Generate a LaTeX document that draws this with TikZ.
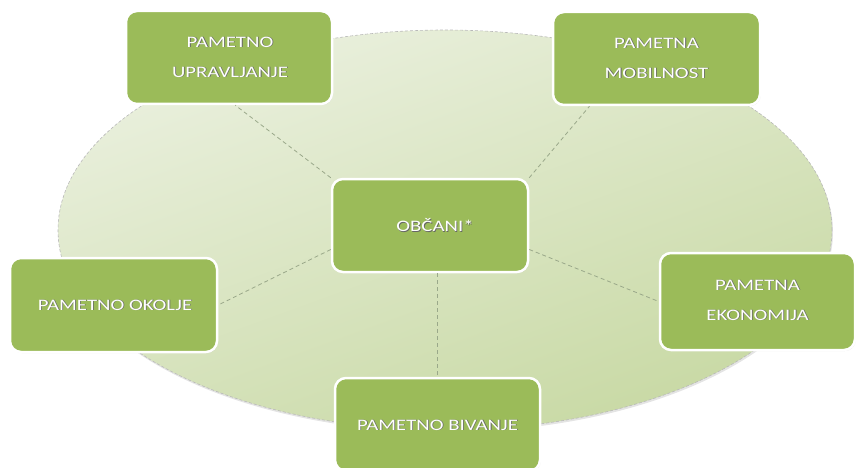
\documentclass[tikz,border=0pt]{standalone}
\usepackage{fontspec}
\setmainfont{Carlito}
\newfontfamily\boxfont[FakeStretch=1.3]{Carlito}
\usetikzlibrary{calc,shadows}
\definecolor{boxgreen}{HTML}{9BBB59}
\definecolor{elltop}{HTML}{EAF0DE}
\definecolor{ellbot}{HTML}{C8D9A4}
\definecolor{conn}{HTML}{9AA88A}
\tikzset{
  gbox/.style={rectangle, rounded corners=11pt, fill=boxgreen, draw=white, line width=2.5pt,
    drop shadow={opacity=0.25, shadow xshift=0.8pt, shadow yshift=-1pt}},
  gtxt/.style={text=white, align=center, font=\boxfont\fontsize{16}{30}\selectfont, inner sep=0pt},
  gshd/.style={text=black!60, align=center, font=\boxfont\fontsize{16}{30}\selectfont, inner sep=0pt},
  connline/.style={draw=conn, line width=0.8pt, dash pattern=on 4pt off 3pt},
}
\newcommand\glabel[3]{%
  \node[gshd] (#1s) at ($(#2)+(0.8,0.8)$) {#3};
  \node[gtxt] (#1t) at (#2) {#3};
}
\begin{document}
\begin{tikzpicture}[x=1pt,y=-1pt]
\useasboundingbox (0,0) rectangle (856,468);
% ellipse
\fill[gray!35, opacity=0.6] (446,232) ellipse [x radius=387pt, y radius=200pt];
\shade[top color=elltop, bottom color=ellbot, shading angle=20]
  (445,230) ellipse [x radius=387pt, y radius=200pt];
\draw[gray!55, line width=0.6pt, dash pattern=on 3pt off 2pt]
  (445,230) ellipse [x radius=387pt, y radius=200pt];
% boxes
\node[gbox, minimum width=206pt, minimum height=93pt] (upr) at (229,57.5) {};
\node[gbox, minimum width=207pt, minimum height=93pt] (mob) at (656.5,58.5) {};
\node[gbox, minimum width=196pt, minimum height=93pt] (obc) at (430,225.5) {};
\node[gbox, minimum width=207pt, minimum height=94pt] (oko) at (113.5,305) {};
\node[gbox, minimum width=195pt, minimum height=97pt] (eko) at (757.5,301.5) {};
\node[gbox, minimum width=205pt, minimum height=93pt] (biv) at (437.5,424.5) {};
% connectors
\draw[connline] (obc.north west) -- ($(upr.south west)!0.53!(upr.south east)$);
\draw[connline] (obc.north east) -- ($(mob.south west)!0.18!(mob.south east)$);
\draw[connline] ([yshift=-24pt]obc.west) -- (oko.east);
\draw[connline] ([yshift=-24pt]obc.east) -- (eko.west);
\draw[connline] (biv.north |- obc.south) -- (biv.north);
% labels
\glabel{upr}{230,57}{PAMETNO\\UPRAVLJANJE}
\glabel{mob}{656.5,58}{PAMETNA\\MOBILNOST}
\glabel{obc}{435,225}{OBČANI*}
\glabel{oko}{115,305}{PAMETNO OKOLJE}
\glabel{eko}{757.5,300}{PAMETNA\\EKONOMIJA}
\glabel{biv}{437.5,425}{PAMETNO BIVANJE}
\end{tikzpicture}
\end{document}
